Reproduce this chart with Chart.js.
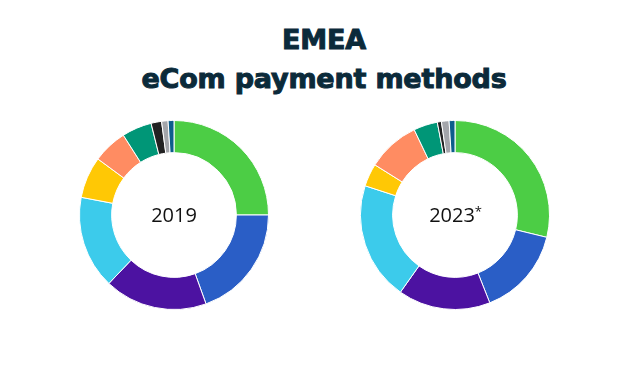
<!DOCTYPE html>
<html>
<head>
<meta charset="utf-8">
<script src="https://cdn.jsdelivr.net/npm/chart.js@4"></script>
<style>
  body { margin: 0; background: #fff; width: 626px; height: 370px; position: relative; overflow: hidden; }
  #title {
    position: absolute; left: 11px; width: 626px; top: 20px;
    text-align: center; font-family: "DejaVu Sans", sans-serif; font-weight: bold;
    font-size: 27px; line-height: 39px; color: #0b2a3a; letter-spacing: -0.2px;
    -webkit-text-stroke: 1px #0b2a3a;
  }
  .box { position: absolute; top: 120px; width: 190px; height: 190px; }
</style>
</head>
<body>
<div id="title">EMEA<br>eCom payment methods</div>
<div class="box" style="left:79px"><canvas id="chart2019"></canvas></div>
<div class="box" style="left:360px"><canvas id="chart2023"></canvas></div>
<script>
  const methods = ["Digital wallets", "Account-to-account", "Credit card", "Debit card",
    "Buy now pay later", "Cash on delivery", "Bank transfer", "Prepaid card", "Other", "Direct debit"];
  const share2019 = [25.0, 19.5, 17.6, 15.9, 7.1, 5.9, 5.1, 1.8, 1.1, 1.0];
  const share2023 = [28.8, 15.2, 15.8, 20.2, 3.9, 9.0, 4.1, 0.7, 1.3, 1.0];
  const colors = ["#4ccd45", "#2a5ec6", "#4c12a1", "#3ccbeb", "#ffc805", "#ff8c62",
    "#009677", "#222222", "#a3a5aa", "#0d5d8c"];

  const centerText = {
    id: "centerText",
    afterDraw(chart, args, opts) {
      const { ctx, chartArea } = chart;
      const cx = (chartArea.left + chartArea.right) / 2;
      const cy = (chartArea.top + chartArea.bottom) / 2 + 1;
      ctx.save();
      ctx.font = "20px 'Open Sans', sans-serif";
      ctx.fillStyle = "#111";
      ctx.textBaseline = "middle";
      const w = ctx.measureText(opts.text).width;
      const supW = opts.sup ? 6 : 0;
      ctx.textAlign = "left";
      ctx.fillText(opts.text, cx - (w + supW) / 2, cy);
      if (opts.sup) {
        ctx.font = "13px 'Open Sans', sans-serif";
        ctx.fillText(opts.sup, cx - (w + supW) / 2 + w, cy - 4);
      }
      ctx.restore();
    },
  };

  function makeDonut(id, values, label, sup) {
    const canvas = document.getElementById(id);
    canvas.width = 190;
    canvas.height = 190;
    new Chart(canvas, {
      type: "doughnut",
      data: {
        labels: methods,
        datasets: [{ data: values, backgroundColor: colors, borderColor: "#fff", borderWidth: 1 }],
      },
      options: {
        responsive: false,
        animation: false,
        cutout: "66%",
        plugins: {
          legend: { display: false },
          tooltip: { enabled: false },
          centerText: { text: label, sup: sup },
        },
      },
      plugins: [centerText],
    });
  }

  makeDonut("chart2019", share2019, "2019", "");
  makeDonut("chart2023", share2023, "2023", "*");
</script>
</body>
</html>
